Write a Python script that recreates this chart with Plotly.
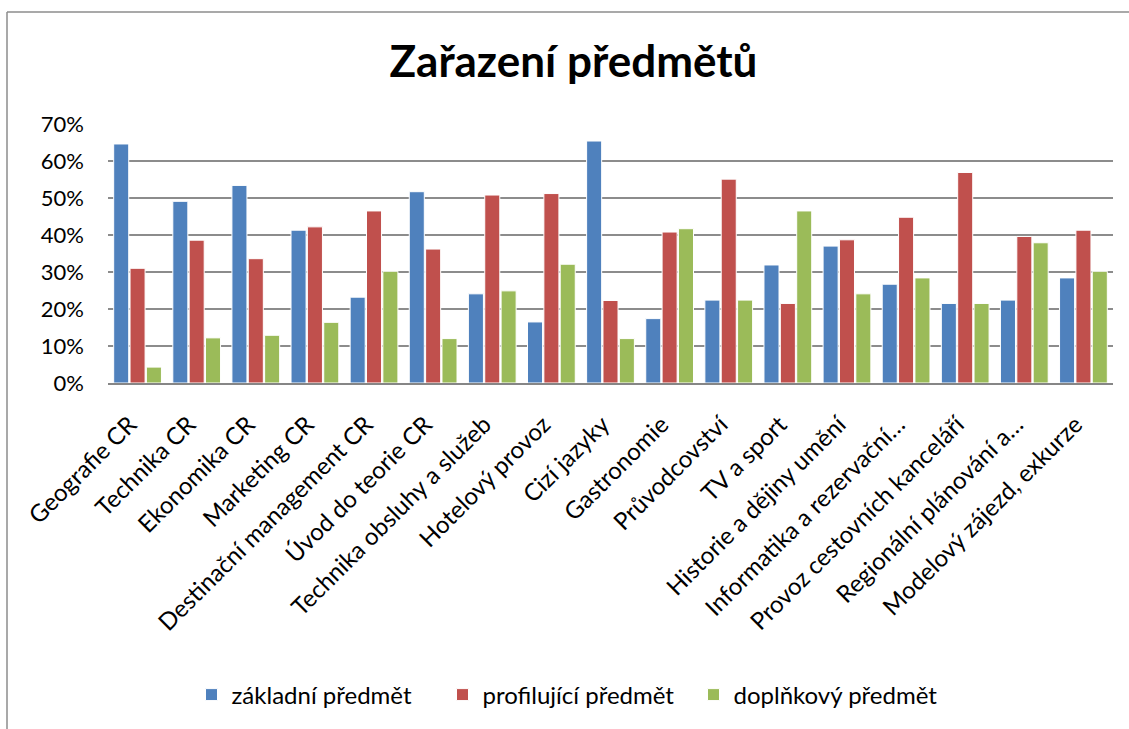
import plotly.graph_objects as go

categories = ["Geografie CR", "Technika CR", "Ekonomika CR", "Marketing CR",
              "Destinační management CR", "Úvod do teorie CR",
              "Technika obsluhy a služeb", "Hotelový provoz", "Cizí jazyky",
              "Gastronomie", "Průvodcovství", "TV a sport",
              "Historie a dějiny umění", "Informatika a rezervační…",
              "Provoz cestovních kanceláří", "Regionální plánování a…",
              "Modelový zájezd, exkurze"]
zakladni = [0.646, 0.491, 0.534, 0.413, 0.232, 0.517, 0.241, 0.165, 0.654,
            0.174, 0.224, 0.319, 0.370, 0.267, 0.215, 0.224, 0.284]
profilujici = [0.310, 0.386, 0.336, 0.422, 0.465, 0.362, 0.508, 0.512, 0.223,
               0.408, 0.551, 0.215, 0.387, 0.448, 0.569, 0.396, 0.413]
doplnkovy = [0.043, 0.122, 0.129, 0.164, 0.302, 0.120, 0.249, 0.321, 0.120,
             0.417, 0.224, 0.465, 0.241, 0.284, 0.215, 0.379, 0.302]

series_names = ["základní předmět", "profilující předmět", "doplňkový předmět"]
colors = ["#4F81BD", "#C0504D", "#9BBB59"]
y_ticks = [0, 0.1, 0.2, 0.3, 0.4, 0.5, 0.6, 0.7]

FONT = "Lato"

fig = go.Figure()
for name, vals, col in zip(series_names, [zakladni, profilujici, doplnkovy], colors):
    fig.add_trace(go.Bar(x=categories, y=vals, name=name,
                         marker=dict(color=col, line=dict(color="white", width=1))))

L, R, T, B = 108, 1113, 124, 383
W, H = R - L, B - T

def px(xp):
    return (xp - L) / W

def py(yp):
    return (B - yp) / H

fig.update_layout(
    width=1129, height=729,
    margin=dict(l=L, r=1129 - R, t=T, b=729 - B, autoexpand=False),
    paper_bgcolor="white", plot_bgcolor="white",
    font=dict(family=FONT, color="black", size=22),
    title=dict(text="<b>Zařazení předmětů</b>", x=573.5 / 1129, xanchor="center",
               y=1 - 62 / 729, yanchor="middle",
               font=dict(family=FONT, size=44, color="black")),
    barmode="group", bargap=0.17, bargroupgap=0.08,
    showlegend=True,
    legend=dict(orientation="h", x=px(568), xanchor="center", y=py(695), yanchor="middle",
                font=dict(family=FONT, size=24, color="black"),
                itemwidth=30, traceorder="normal",
                entrywidth=206, entrywidthmode="pixels"),
    xaxis=dict(showgrid=False, showline=True, linecolor="#868686", linewidth=2,
               tickangle=-45, ticks="", tickfont=dict(family=FONT, size=24),
               ticklabelstandoff=16, ticklabelshift=-8,
               range=[-0.5, len(categories) - 0.5]),
    yaxis=dict(range=[0, 0.7], tickvals=y_ticks, tickformat=".0%",
               showgrid=True, gridcolor="#8c8c8c", gridwidth=1.5,
               showline=False, zeroline=False, ticks="",
               ticklabelstandoff=23,
               tickfont=dict(family=FONT, size=22)),
    shapes=[
        dict(type="line", xref="paper", yref="paper", x0=px(7), x1=px(1135),
             y0=py(12), y1=py(12), line=dict(color="#8c8c8c", width=1.5)),
        dict(type="line", xref="paper", yref="paper", x0=px(7), x1=px(7),
             y0=py(12), y1=py(735), line=dict(color="#8c8c8c", width=1.5)),
    ],
)

fig.write_html("out.html", config={"displayModeBar": False},
               post_script="document.body.style.margin='0';document.body.style.overflow='hidden';")
